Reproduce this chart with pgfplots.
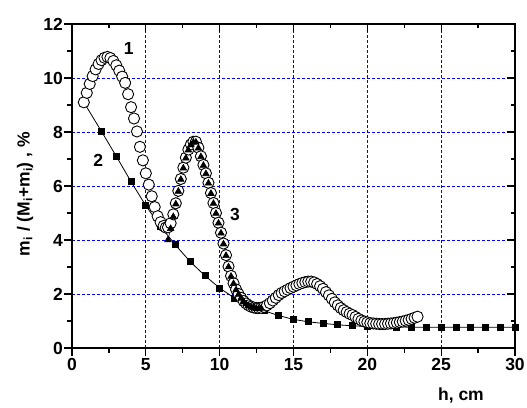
\documentclass[border=0pt]{standalone}
\usepackage{pgfplots}
\pgfplotsset{compat=1.18}
\usepackage{pgfplotstable}
\usepackage{fontspec}
\setmainfont{Liberation Sans}
\newcommand{\bigbf}{\bfseries\fontsize{17.5}{19}\selectfont}

\pgfplotstableread{
x y
0.8 9.10
1.0 9.45
1.2 9.78
1.4 10.07
1.6 10.32
1.8 10.52
2.0 10.66
2.2 10.75
2.4 10.78
2.6 10.74
2.8 10.63
3.0 10.47
3.2 10.27
3.4 10.05
3.6 9.82
3.8 9.40
4.0 8.92
4.2 8.50
4.4 8.02
4.6 7.45
4.8 6.95
5.0 6.47
5.2 6.05
5.4 5.62
5.6 5.22
5.8 4.88
6.0 4.66
6.2 4.52
6.35 4.46
6.50 4.47
6.68 4.62
6.86 4.95
7.03 5.36
7.20 5.82
7.37 6.26
7.54 6.68
7.71 7.05
7.88 7.35
8.05 7.54
8.22 7.64
8.39 7.64
8.56 7.42
8.73 7.10
8.90 6.78
9.07 6.47
9.24 6.12
9.41 5.74
9.58 5.37
9.75 5.00
9.92 4.64
10.09 4.27
10.26 3.87
10.43 3.44
10.60 3.02
10.77 2.67
10.94 2.40
11.11 2.17
11.28 2.00
11.45 1.86
11.62 1.74
11.79 1.65
11.96 1.58
12.13 1.53
12.30 1.50
12.47 1.48
12.64 1.48
12.81 1.49
13.0 1.52
13.2 1.58
13.4 1.66
13.6 1.76
13.8 1.86
14.0 1.96
14.2 2.04
14.4 2.10
14.6 2.16
14.8 2.22
15.0 2.27
15.2 2.32
15.4 2.37
15.6 2.41
15.8 2.44
16.0 2.46
16.2 2.46
16.4 2.43
16.6 2.37
16.8 2.29
17.0 2.19
17.2 2.07
17.4 1.95
17.6 1.82
17.8 1.69
18.0 1.58
18.2 1.48
18.4 1.40
18.6 1.33
18.8 1.27
19.0 1.22
19.2 1.15
19.4 1.08
19.6 1.02
19.8 0.98
20.0 0.95
20.2 0.92
20.4 0.91
20.6 0.90
20.8 0.89
21.0 0.89
21.2 0.89
21.4 0.90
21.6 0.91
21.8 0.92
22.0 0.94
22.2 0.96
22.4 0.98
22.6 1.01
22.8 1.04
23.0 1.08
23.2 1.12
23.4 1.16
}\seriesone

\pgfplotstableread{
x y
0.8 9.10
2 8.02
3 7.10
4 6.16
5 5.27
6 4.50
7 3.82
8 3.20
9 2.68
10 2.22
11 1.85
12 1.56
13 1.38
14 1.20
15 1.06
16 0.97
17 0.91
18 0.86
19 0.82
20 0.80
21 0.79
22 0.78
23 0.77
24 0.77
25 0.77
26 0.77
27 0.77
28 0.77
29 0.77
30 0.77
}\seriestwo

\pgfplotstableread{
x y
6.50 4.00
6.68 4.42
6.86 4.86
7.03 5.33
7.20 5.80
7.37 6.24
7.54 6.66
7.71 7.03
7.88 7.33
8.05 7.52
8.22 7.62
8.39 7.62
8.56 7.40
8.73 7.08
8.90 6.76
9.07 6.45
9.24 6.10
9.41 5.72
9.58 5.35
9.75 4.98
9.92 4.62
10.09 4.25
10.26 3.85
10.43 3.42
10.60 3.00
10.77 2.65
10.94 2.38
11.11 2.15
11.28 1.98
11.45 1.84
11.62 1.72
11.79 1.63
11.96 1.56
12.13 1.51
12.30 1.48
12.47 1.46
12.64 1.46
12.81 1.47
}\seriesthree

\begin{document}
\begin{tikzpicture}
\begin{axis}[
  scale only axis,
  width=443pt, height=324pt,
  xmin=0, xmax=30, ymin=0, ymax=12,
  xtick={0,5,...,30}, ytick={0,2,...,12},
  minor x tick num=1, minor y tick num=1,
  tick pos=left, tick align=outside,
  major tick length=8pt, minor tick length=4.5pt,
  every tick/.style={black, line width=1.2pt},
  axis line style={line width=1.3pt},
  grid=major,
  major grid style={blue, line width=0.8pt, dash pattern=on 3pt off 2pt},
  /pgf/number format/assume math mode=true,
  tick label style={font=\bigbf},
  yticklabel style={inner sep=1pt},
  xticklabel style={inner sep=2pt},
  xlabel={h, cm},
  xlabel style={at={(axis description cs:0.878,-0.148)}, anchor=center, font=\bigbf},
  ylabel={m\textsubscript{i} / (M\textsubscript{i}+m\textsubscript{i}) , \%},
  ylabel style={at={(axis description cs:-0.106,0.475)}, anchor=center, font=\bigbf},
]
\addplot[black, line width=0.8pt, mark=square*, mark size=3pt, mark options={solid, fill=black}] table[x=x,y=y] {\seriestwo};
\addplot[only marks, mark=*, mark size=5.6pt, mark options={fill=white, draw=black, line width=0.9pt}] table[x=x,y=y] {\seriesone};
\addplot[blue, line width=0.6pt, mark=triangle*, mark size=3.8pt, mark options={fill=black, draw=black}] table[x=x,y=y] {\seriesthree};
\node[font=\bigbf] at (axis cs:3.85,11.1) {1};
\node[font=\bigbf] at (axis cs:1.78,6.96) {2};
\node[font=\bigbf] at (axis cs:11.04,4.93) {3};
\coordinate (ll) at (rel axis cs:0,0);
\coordinate (ur) at (rel axis cs:1,1);
\end{axis}
\begin{axis}[
  scale only axis,
  width=443pt, height=324pt,
  xmin=0, xmax=30, ymin=0, ymax=12,
  xtick={0,5,...,30}, ytick={0,2,...,12},
  minor x tick num=1, minor y tick num=1,
  tick pos=right, tick align=inside,
  major tick length=8pt, minor tick length=4.5pt,
  every tick/.style={black, line width=1.2pt},
  axis line style={line width=1.3pt},
  xticklabels={}, yticklabels={},
]
\end{axis}
\pgfresetboundingbox
\path ([shift={(-72pt,-59pt)}]ll) rectangle ([shift={(12pt,24pt)}]ur);
\end{tikzpicture}
\end{document}
